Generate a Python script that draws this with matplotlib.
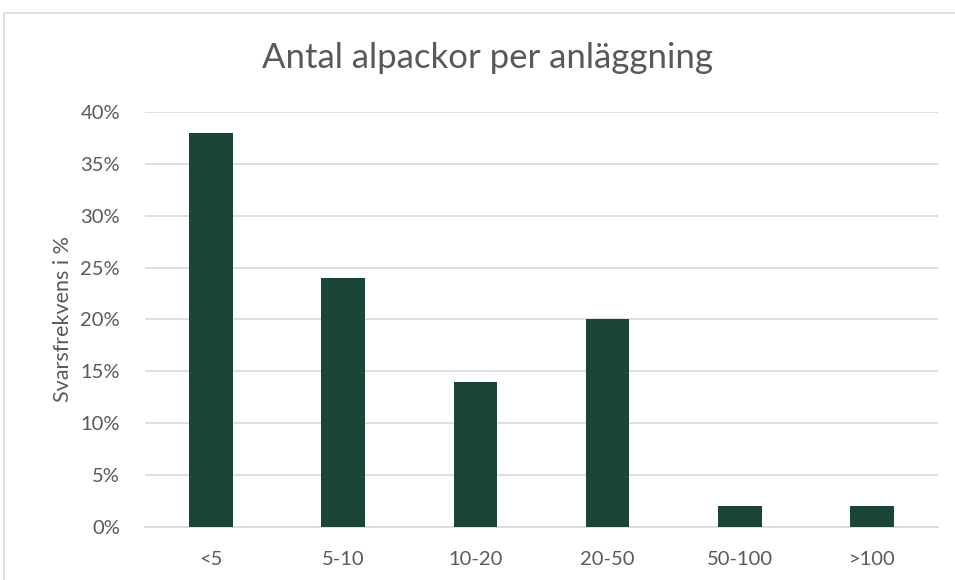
import matplotlib
matplotlib.use("Agg")
import matplotlib.pyplot as plt
from matplotlib.patches import Rectangle
from matplotlib.ticker import FuncFormatter

# data
categories = ["<5", "5-10", "10-20", "20-50", "50-100", ">100"]
shares = [38, 24, 14, 20, 2, 2]  # percent

plt.rcParams['font.family'] = ['Lato', 'DejaVu Sans']
txt = '#595959'

fig = plt.figure(figsize=(9.55, 5.8), dpi=100)
ax = fig.add_axes([0.1518, 0.0914, 0.8305, 0.7155])

ax.bar(range(len(categories)), shares, width=0.33, color='#1A4636', zorder=3)

ax.set_xlim(-0.5, len(categories) - 0.5)
ax.set_ylim(0, 40)
ax.set_yticks(range(0, 41, 5))
ax.yaxis.set_major_formatter(FuncFormatter(lambda v, p: f"{v:.0f}%"))
ax.set_xticks(range(len(categories)))
ax.set_xticklabels(categories)

ax.grid(axis='y', color='#D9D9D9', linewidth=1.2, zorder=0)
for s in ['top', 'right', 'left']:
    ax.spines[s].set_visible(False)
ax.spines['bottom'].set_color('#D9D9D9')
ax.spines['bottom'].set_linewidth(1.2)
ax.tick_params(length=0, labelsize=14.5, colors=txt, pad=18)
ax.tick_params(axis='x', pad=17)

ax.set_ylabel("Svarsfrekvens i %", fontsize=15.5, color=txt, labelpad=5)
fig.text(0.51, 0.9, "Antal alpackor per anläggning", ha='center', va='center',
         fontsize=25, color=txt)

# outer chart border
fig.patches.append(Rectangle((4 / 955, -0.05), 1.2, 1 - 13 / 580 + 0.05,
                             transform=fig.transFigure, fill=False,
                             edgecolor='#D9D9D9', linewidth=1.2))

fig.savefig("out.png", dpi=100)
